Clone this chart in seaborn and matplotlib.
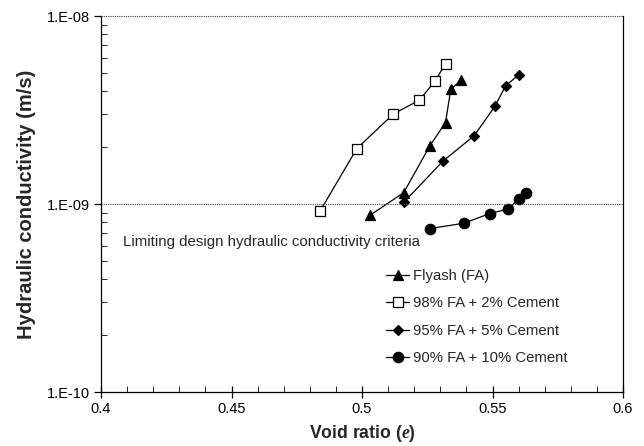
import matplotlib
matplotlib.use("Agg")
import matplotlib.pyplot as plt
import matplotlib.ticker as mticker
import pandas as pd
import seaborn as sns

# values
fa_e = [0.503, 0.516, 0.526, 0.532, 0.534, 0.538]
fa_k = [8.7e-10, 1.15e-9, 2.04e-9, 2.71e-9, 4.07e-9, 4.57e-9]

c2_e = [0.484, 0.498, 0.512, 0.522, 0.528, 0.532]
c2_k = [9.2e-10, 1.97e-9, 3.01e-9, 3.57e-9, 4.51e-9, 5.58e-9]

c5_e = [0.516, 0.531, 0.543, 0.551, 0.555, 0.560]
c5_k = [1.02e-9, 1.69e-9, 2.31e-9, 3.32e-9, 4.25e-9, 4.86e-9]

c10_e = [0.526, 0.539, 0.549, 0.556, 0.560, 0.563]
c10_k = [7.4e-10, 7.9e-10, 8.9e-10, 9.4e-10, 1.06e-9, 1.15e-9]

series_names = ["Flyash (FA)", "98% FA + 2% Cement",
                "95% FA + 5% Cement", "90% FA + 10% Cement"]
limit_k = 1e-9
x_ticks = [0.4, 0.45, 0.5, 0.55, 0.6]
x_tick_labels = ["0.4", "0.45", "0.5", "0.55", "0.6"]
y_ticks = [1e-10, 1e-9, 1e-8]
y_tick_labels = ["1.E-10", "1.E-09", "1.E-08"]

df = pd.concat([
    pd.DataFrame({"e": fa_e, "k": fa_k, "mix": series_names[0]}),
    pd.DataFrame({"e": c2_e, "k": c2_k, "mix": series_names[1]}),
    pd.DataFrame({"e": c5_e, "k": c5_k, "mix": series_names[2]}),
    pd.DataFrame({"e": c10_e, "k": c10_k, "mix": series_names[3]}),
])

sns.set_style("ticks")
plt.rcParams["font.family"] = ["Liberation Sans", "DejaVu Sans"]
plt.rcParams["mathtext.fontset"] = "custom"
plt.rcParams["mathtext.it"] = "Liberation Serif:italic:bold"

fig = plt.figure(figsize=(6.44, 4.46), dpi=100)
ax = fig.add_axes([101 / 644, 1 - 392 / 446, 522 / 644, 376 / 446])

styles = {
    series_names[0]: dict(marker="^", ms=7, mfc="black"),
    series_names[1]: dict(marker="s", ms=6.5, mfc="white"),
    series_names[2]: dict(marker="D", ms=5, mfc="black"),
    series_names[3]: dict(marker="o", ms=7.5, mfc="black"),
}
for name in series_names:
    st = styles[name]
    sns.lineplot(data=df[df["mix"] == name], x="e", y="k", ax=ax,
                 color="black", lw=0.9, sort=False, label=name,
                 marker=st["marker"], markersize=st["ms"],
                 markerfacecolor=st["mfc"], markeredgecolor="black",
                 markeredgewidth=0.9)

ax.set_yscale("log")
ax.set_xlim(0.4, 0.6)
ax.set_ylim(1e-10, 1e-8)

# limiting criterion and the dotted line along the top
ax.axhline(limit_k, color="0.25", lw=0.8, ls=(0, (1, 1)))
ax.axhline(1e-8, color="0.25", lw=0.8, ls=(0, (1, 1)), clip_on=False)
ax.text(0.043, 0.40, "Limiting design hydraulic conductivity criteria",
        transform=ax.transAxes, fontsize=10.8, va="center", ha="left")

ax.xaxis.set_major_locator(mticker.FixedLocator(x_ticks))
ax.xaxis.set_major_formatter(mticker.FixedFormatter(x_tick_labels))
ax.xaxis.set_minor_locator(mticker.MultipleLocator(0.01))
ax.yaxis.set_major_locator(mticker.FixedLocator(y_ticks))
ax.yaxis.set_major_formatter(mticker.FixedFormatter(y_tick_labels))
ax.yaxis.set_minor_locator(mticker.LogLocator(base=10, subs=range(2, 10)))
ax.yaxis.set_minor_formatter(mticker.NullFormatter())

ax.tick_params(which="major", direction="inout", length=8, width=0.9,
               labelsize=10.5, colors="black", pad=3)
ax.tick_params(which="minor", direction="in", length=4, width=0.7)
ax.tick_params(axis="y", which="major", direction="out", length=5)

ax.spines["top"].set_visible(False)
for side in ["left", "right", "bottom"]:
    ax.spines[side].set_linewidth(0.9)
    ax.spines[side].set_color("black")

ax.set_xlabel("Void ratio ($e$)", fontsize=12.7, fontweight="bold", labelpad=5)
ax.set_ylabel("Hydraulic conductivity (m/s)", fontsize=14.5, fontweight="bold",
              labelpad=8)

ax.legend(loc="upper left", bbox_to_anchor=(386 / 644, 1 - 269 / 446),
          bbox_transform=fig.transFigure, frameon=False, fontsize=10.7,
          handlelength=1.55, handletextpad=0.25, labelspacing=0.9,
          borderpad=0, borderaxespad=0)

fig.savefig("out.png", dpi=100)
